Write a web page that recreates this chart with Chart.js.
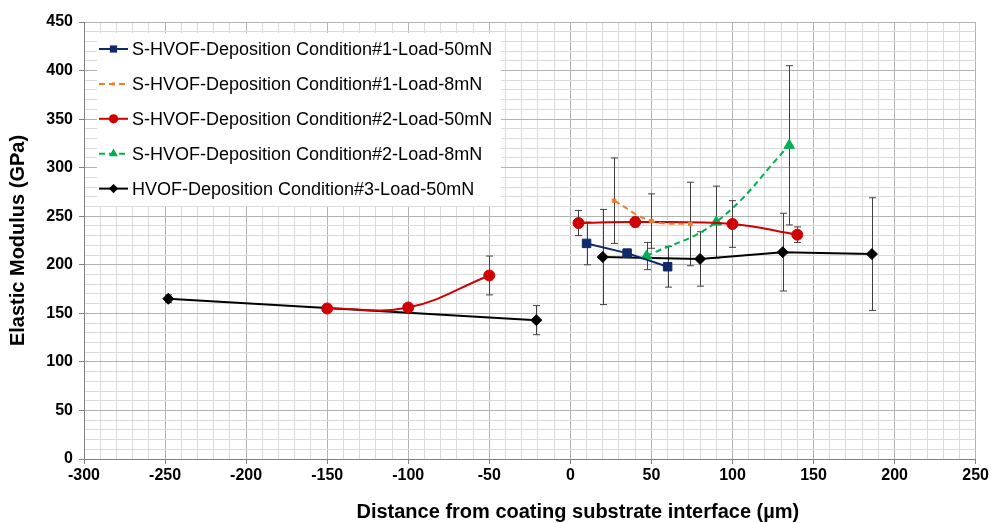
<!DOCTYPE html>
<html>
<head>
<meta charset="utf-8">
<script src="https://cdn.jsdelivr.net/npm/chart.js@4.4.1/dist/chart.umd.min.js"></script>
<style>
  body { margin: 0; background: #fff; }
  #wrap { width: 991px; height: 523px; }
</style>
</head>
<body>
<div id="wrap"><canvas id="myChart" width="991" height="523"></canvas></div>
<script>
// series names (legend order)
const seriesNames = [
  "S-HVOF-Deposition Condition#1-Load-50mN",
  "S-HVOF-Deposition Condition#1-Load-8mN",
  "S-HVOF-Deposition Condition#2-Load-50mN",
  "S-HVOF-Deposition Condition#2-Load-8mN",
  "HVOF-Deposition Condition#3-Load-50mN"
];

// distance (um), modulus (GPa), error (GPa); null = gap in the line
const c1L50X = [10, 35, 60];
const c1L50Y = [222, 212, 198];
const c1L50Err = [22, 4, 21];

const c1L8X = [27, 50, 74];
const c1L8Y = [266, 245, 242];
const c1L8Err = [44, 28, 43];

const c2L50X = [-150, -100, -50, 0, 5, 40, 100, 140];
const c2L50Y = [155, 156, 189, null, 243, 244, 242, 231];
const c2L50Err = [3, 3, 20, 0, 13, 5, 24, 8];

const c2L8X = [47, 90, 135];
const c2L8Y = [209, 244, 323];
const c2L8Err = [14, 37, 82];

const c3L50X = [-248, -21, 0, 20, 80, 131, 186];
const c3L50Y = [165, 143, null, 208, 206, 213, 211];
const c3L50Err = [4, 15, 0, 49, 28, 40, 58];

const xTitle = "Distance from coating substrate interface (\u00b5m)";
const yTitle = "Elastic Modulus (GPa)";

function pts(xs, ys) {
  return xs.map((x, i) => ({ x: x, y: ys[i] }));
}

Chart.defaults.font.family = "'Liberation Sans', Arial, sans-serif";
Chart.defaults.color = "#000";

const errorBars = {
  id: "errorBars",
  beforeDatasetsDraw(chart) {
    const ctx = chart.ctx;
    const xs = chart.scales.x, ys = chart.scales.y;
    ctx.save();
    ctx.strokeStyle = "#404040";
    ctx.lineWidth = 1;
    chart.data.datasets.forEach(ds => {
      ds.data.forEach((p, i) => {
        const e = ds.errors[i];
        if (p.y === null || !e) return;
        const px = Math.round(xs.getPixelForValue(p.x)) + 0.5;
        const t = ys.getPixelForValue(p.y + e);
        const b = ys.getPixelForValue(p.y - e);
        ctx.beginPath();
        ctx.moveTo(px, t); ctx.lineTo(px, b);
        ctx.moveTo(px - 3.5, t); ctx.lineTo(px + 3.5, t);
        ctx.moveTo(px - 3.5, b); ctx.lineTo(px + 3.5, b);
        ctx.stroke();
      });
    });
    ctx.restore();
  }
};

function marker(ctx, style, x, y, r) {
  ctx.beginPath();
  if (style === "rect") {
    const s = r * Math.SQRT1_2;
    ctx.rect(x - s, y - s, 2 * s, 2 * s);
  } else if (style === "rectRot") {
    ctx.moveTo(x - r, y); ctx.lineTo(x, y - r); ctx.lineTo(x + r, y); ctx.lineTo(x, y + r);
    ctx.closePath();
  } else if (style === "triangle") {
    ctx.moveTo(x, y - r);
    ctx.lineTo(x + r * 0.866, y + r * 0.5);
    ctx.lineTo(x - r * 0.866, y + r * 0.5);
    ctx.closePath();
  } else {
    ctx.arc(x, y, r, 0, Math.PI * 2);
  }
  ctx.fill();
}

const boxLegend = {
  id: "boxLegend",
  afterDatasetsDraw(chart) {
    const ctx = chart.ctx;
    const a = chart.chartArea;
    const left = a.left + 13, top = a.top + 11;
    ctx.save();
    ctx.fillStyle = "#fff";
    ctx.fillRect(left, top, 404, 173);
    ctx.font = "18px 'Liberation Sans', Arial, sans-serif";
    ctx.textBaseline = "middle";
    chart.data.datasets.forEach((ds, i) => {
      const y = top + 16 + i * 34.9;
      ctx.strokeStyle = ds.borderColor;
      ctx.lineWidth = 2;
      ctx.setLineDash(ds.borderDash || []);
      ctx.beginPath();
      ctx.moveTo(left + 2, y); ctx.lineTo(left + 31, y);
      ctx.stroke();
      ctx.setLineDash([]);
      ctx.fillStyle = ds.pointBackgroundColor;
      marker(ctx, ds.pointStyle, left + 16.5, y, ds.pointRadius * 0.85);
      ctx.fillStyle = "#000";
      ctx.fillText(ds.label, left + 35, y + 1);
    });
    ctx.restore();
  }
};

const xTitlePlugin = {
  id: "xTitlePlugin",
  afterDraw(chart) {
    const ctx = chart.ctx;
    const a = chart.chartArea;
    ctx.save();
    ctx.font = "bold 20px 'Liberation Sans', Arial, sans-serif";
    ctx.fillStyle = "#000";
    ctx.textAlign = "center";
    ctx.textBaseline = "middle";
    ctx.fillText(xTitle, (a.left + a.right) / 2 + 48, 512);
    ctx.restore();
  }
};

function series(label, xs, ys, errs, color, style, radius, dash, tension) {
  return {
    label: label,
    data: pts(xs, ys),
    errors: errs,
    showLine: true,
    spanGaps: false,
    borderColor: color,
    backgroundColor: color,
    pointBackgroundColor: color,
    pointBorderColor: color,
    pointStyle: style,
    pointRadius: radius,
    pointBorderWidth: 1,
    borderWidth: 2,
    borderDash: dash,
    tension: tension
  };
}

const gridColor = ctx => (ctx.tick && ctx.tick.value % 50 === 0) ? "#b3b3b3" : "#dadada";
const tickColor = ctx => (ctx.tick && ctx.tick.value % 50 === 0) ? "#808080" : "rgba(0,0,0,0)";

new Chart(document.getElementById("myChart"), {
  type: "scatter",
  data: {
    datasets: [
      series(seriesNames[0], c1L50X, c1L50Y, c1L50Err, "#0f2a6b", "rect", 6, [], 0),
      series(seriesNames[1], c1L8X, c1L8Y, c1L8Err, "#ed7d31", "rect", 2.5, [6, 4], 0.4),
      series(seriesNames[2], c2L50X, c2L50Y, c2L50Err, "#d00000", "circle", 5.5, [], 0.4),
      series(seriesNames[3], c2L8X, c2L8Y, c2L8Err, "#00b050", "triangle", 6, [6, 4], 0.4),
      series(seriesNames[4], c3L50X, c3L50Y, c3L50Err, "#000000", "rectRot", 5.5, [], 0)
    ]
  },
  options: {
    responsive: false,
    animation: false,
    layout: { padding: { top: 22, right: 15, left: 0, bottom: 0 } },
    plugins: { legend: { display: false }, tooltip: { enabled: false } },
    scales: {
      x: {
        type: "linear",
        min: -300, max: 250,
        afterFit: s => { s.height = 64; },
        ticks: {
          stepSize: 10, maxTicksLimit: 100, autoSkip: false, maxRotation: 0,
          padding: 2,
          font: { size: 16, weight: "bold" },
          callback: v => (v % 50 === 0 ? v : "")
        },
        grid: { color: gridColor, tickColor: tickColor, tickLength: 5, lineWidth: 1 },
        border: { color: "#808080" },
        title: { display: false }
      },
      y: {
        min: 0, max: 450,
        afterFit: s => { s.width = 84; },
        ticks: {
          stepSize: 10, maxTicksLimit: 100, autoSkip: false,
          padding: 6,
          font: { size: 16, weight: "bold" },
          callback: v => (v % 50 === 0 ? v : "")
        },
        grid: { color: gridColor, tickColor: tickColor, tickLength: 5, lineWidth: 1 },
        border: { color: "#808080" },
        title: {
          display: true, text: yTitle,
          font: { size: 20, weight: "bold" },
          padding: { top: 6, bottom: 0 }
        }
      }
    }
  },
  plugins: [errorBars, boxLegend, xTitlePlugin]
});
</script>
</body>
</html>
